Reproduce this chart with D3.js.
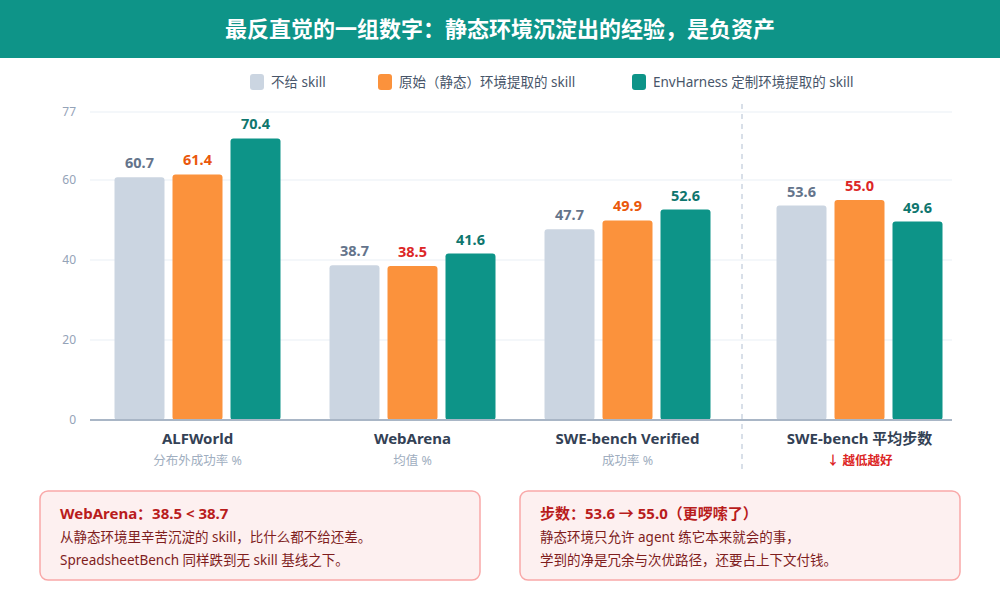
<!DOCTYPE html>
<html>
<head>
<meta charset="utf-8">
<script src="https://cdn.jsdelivr.net/npm/d3@7"></script>
<style>
  body { margin: 0; background: #fff; }
  text { font-family: "Noto Sans", "Noto Sans CJK SC", sans-serif; }
</style>
</head>
<body>
<div id="chart"></div>
<script>
var svgWidth = 1000;
var svgHeight = 600;

// data
var categories = ["ALFWorld", "WebArena", "SWE-bench Verified", "SWE-bench 平均步数"];
var subtitles = ["分布外成功率 %", "均值 %", "成功率 %", "↓ 越低越好"];
var series = ["不给 skill", "原始（静态）环境提取的 skill", "EnvHarness 定制环境提取的 skill"];
var noSkill = [60.7, 38.7, 47.7, 53.6];
var staticSkill = [61.4, 38.5, 49.9, 55.0];
var envSkill = [70.4, 41.6, 52.6, 49.6];
var yTicks = [0, 20, 40, 60, 77];

var colors = ["#cbd5e1", "#fb923c", "#0d9488"];
var labelColors = ["#64748b", "#ea580c", "#0f766e"];
var badColor = "#dc2626";

var margin = { left: 90, right: 48, top: 112, bottom: 180 };
var plotBottom = svgHeight - margin.bottom; // 420

var svg = d3.select("#chart")
  .append("svg")
  .attr("width", svgWidth)
  .attr("height", svgHeight);

// title bar
svg.append("rect")
  .attr("x", 0).attr("y", 0)
  .attr("width", svgWidth).attr("height", 58)
  .attr("fill", "#0e9488");
svg.append("text")
  .attr("x", svgWidth / 2).attr("y", 37)
  .attr("text-anchor", "middle")
  .attr("fill", "#fff")
  .attr("font-size", 22)
  .attr("font-weight", "bold")
  .text("最反直觉的一组数字：静态环境沉淀出的经验，是负资产");

// legend
var legendX = [250, 378, 632];
var legend = svg.append("g").selectAll("g")
  .data(series)
  .enter().append("g")
  .attr("transform", (d, i) => `translate(${legendX[i]}, 74)`);
legend.append("rect")
  .attr("width", 14).attr("height", 16).attr("rx", 3)
  .attr("fill", (d, i) => colors[i]);
legend.append("text")
  .attr("x", 21).attr("y", 13)
  .attr("font-size", 13.5)
  .attr("fill", "#475569")
  .text(d => d);

// scales
var yScale = d3.scaleLinear().domain([0, 77]).range([plotBottom, margin.top]);
var x0 = d3.scaleBand().domain(categories).range([90, 950]);
var groupGap = 17; // last group is set apart
function groupCenter(c, i) {
  return x0(c) + x0.bandwidth() / 2 + (i === 3 ? groupGap : 0);
}
var x1 = d3.scaleBand().domain(series).range([-83, 83]).paddingInner(8 / 58);

// gridlines
svg.append("g").selectAll("line")
  .data(yTicks.filter(t => t > 0))
  .enter().append("line")
  .attr("x1", 90).attr("x2", svgWidth - margin.right)
  .attr("y1", d => yScale(d)).attr("y2", d => yScale(d))
  .attr("stroke", "#f1f5f9").attr("stroke-width", 1.5);

// y axis labels
svg.append("g").selectAll("text")
  .data(yTicks)
  .enter().append("text")
  .attr("x", 76).attr("y", d => yScale(d) + 4)
  .attr("text-anchor", "end")
  .attr("font-size", 12)
  .attr("fill", "#94a3b8")
  .text(d => d);

// divider
svg.append("line")
  .attr("x1", 742).attr("x2", 742)
  .attr("y1", 104).attr("y2", 470)
  .attr("stroke", "#cbd5e1").attr("stroke-width", 1.5)
  .attr("stroke-dasharray", "5,5");

// bars
var table = categories.map((c, i) => ({
  cat: c, idx: i,
  vals: [noSkill[i], staticSkill[i], envSkill[i]]
}));

var groups = svg.append("g").selectAll("g")
  .data(table)
  .enter().append("g")
  .attr("transform", d => `translate(${groupCenter(d.cat, d.idx)}, 0)`);

groups.selectAll("rect")
  .data(d => d.vals.map((v, j) => ({ v: v, j: j, idx: d.idx })))
  .enter().append("rect")
  .attr("x", d => x1(series[d.j]))
  .attr("y", d => yScale(d.v))
  .attr("width", x1.bandwidth())
  .attr("height", d => plotBottom - yScale(d.v))
  .attr("rx", 3)
  .attr("fill", d => colors[d.j]);

// value labels; static skill worse than baseline shown in red
groups.selectAll("text.val")
  .data(d => d.vals.map((v, j) => ({ v: v, j: j, idx: d.idx })))
  .enter().append("text")
  .attr("class", "val")
  .attr("x", d => x1(series[d.j]) + x1.bandwidth() / 2)
  .attr("y", d => yScale(d.v) - 9)
  .attr("text-anchor", "middle")
  .attr("font-size", 14.5)
  .attr("font-weight", "bold")
  .attr("fill", d => (d.j === 1 && (d.idx === 1 || d.idx === 3)) ? badColor : labelColors[d.j])
  .text(d => d.v.toFixed(1));

// baseline
svg.append("line")
  .attr("x1", 90).attr("x2", svgWidth - margin.right)
  .attr("y1", plotBottom).attr("y2", plotBottom)
  .attr("stroke", "#a9b6c6").attr("stroke-width", 2);

// category labels
groups.append("text")
  .attr("y", 444)
  .attr("text-anchor", "middle")
  .attr("font-size", 15)
  .attr("font-weight", "bold")
  .attr("fill", "#334155")
  .text(d => d.cat);
groups.append("text")
  .attr("y", 465)
  .attr("text-anchor", "middle")
  .attr("font-size", 12.5)
  .attr("font-weight", d => d.idx === 3 ? "bold" : "normal")
  .attr("fill", d => d.idx === 3 ? badColor : "#a0aec0")
  .text((d, i) => subtitles[i]);

// annotation boxes
var notes = [
  { x: 40, title: "WebArena：38.5 < 38.7",
    lines: ["从静态环境里辛苦沉淀的 skill，比什么都不给还差。", "SpreadsheetBench 同样跌到无 skill 基线之下。"] },
  { x: 520, title: "步数：53.6 → 55.0（更啰嗦了）",
    lines: ["静态环境只允许 agent 练它本来就会的事，", "学到的净是冗余与次优路径，还要占上下文付钱。"] }
];
var note = svg.append("g").selectAll("g")
  .data(notes)
  .enter().append("g")
  .attr("transform", d => `translate(${d.x}, 491)`);
note.append("rect")
  .attr("width", 440).attr("height", 89).attr("rx", 8)
  .attr("fill", "#fdf0f0")
  .attr("stroke", "#f9a8a8").attr("stroke-width", 1.5);
note.append("text")
  .attr("x", 20).attr("y", 28)
  .attr("font-size", 15)
  .attr("font-weight", "bold")
  .attr("fill", "#b91c1c")
  .text(d => d.title);
note.selectAll("text.line")
  .data(d => d.lines)
  .enter().append("text")
  .attr("class", "line")
  .attr("x", 20).attr("y", (d, i) => 51 + i * 23)
  .attr("font-size", 13.5)
  .attr("fill", "#7f1d1d")
  .text(d => d);
</script>
</body>
</html>
